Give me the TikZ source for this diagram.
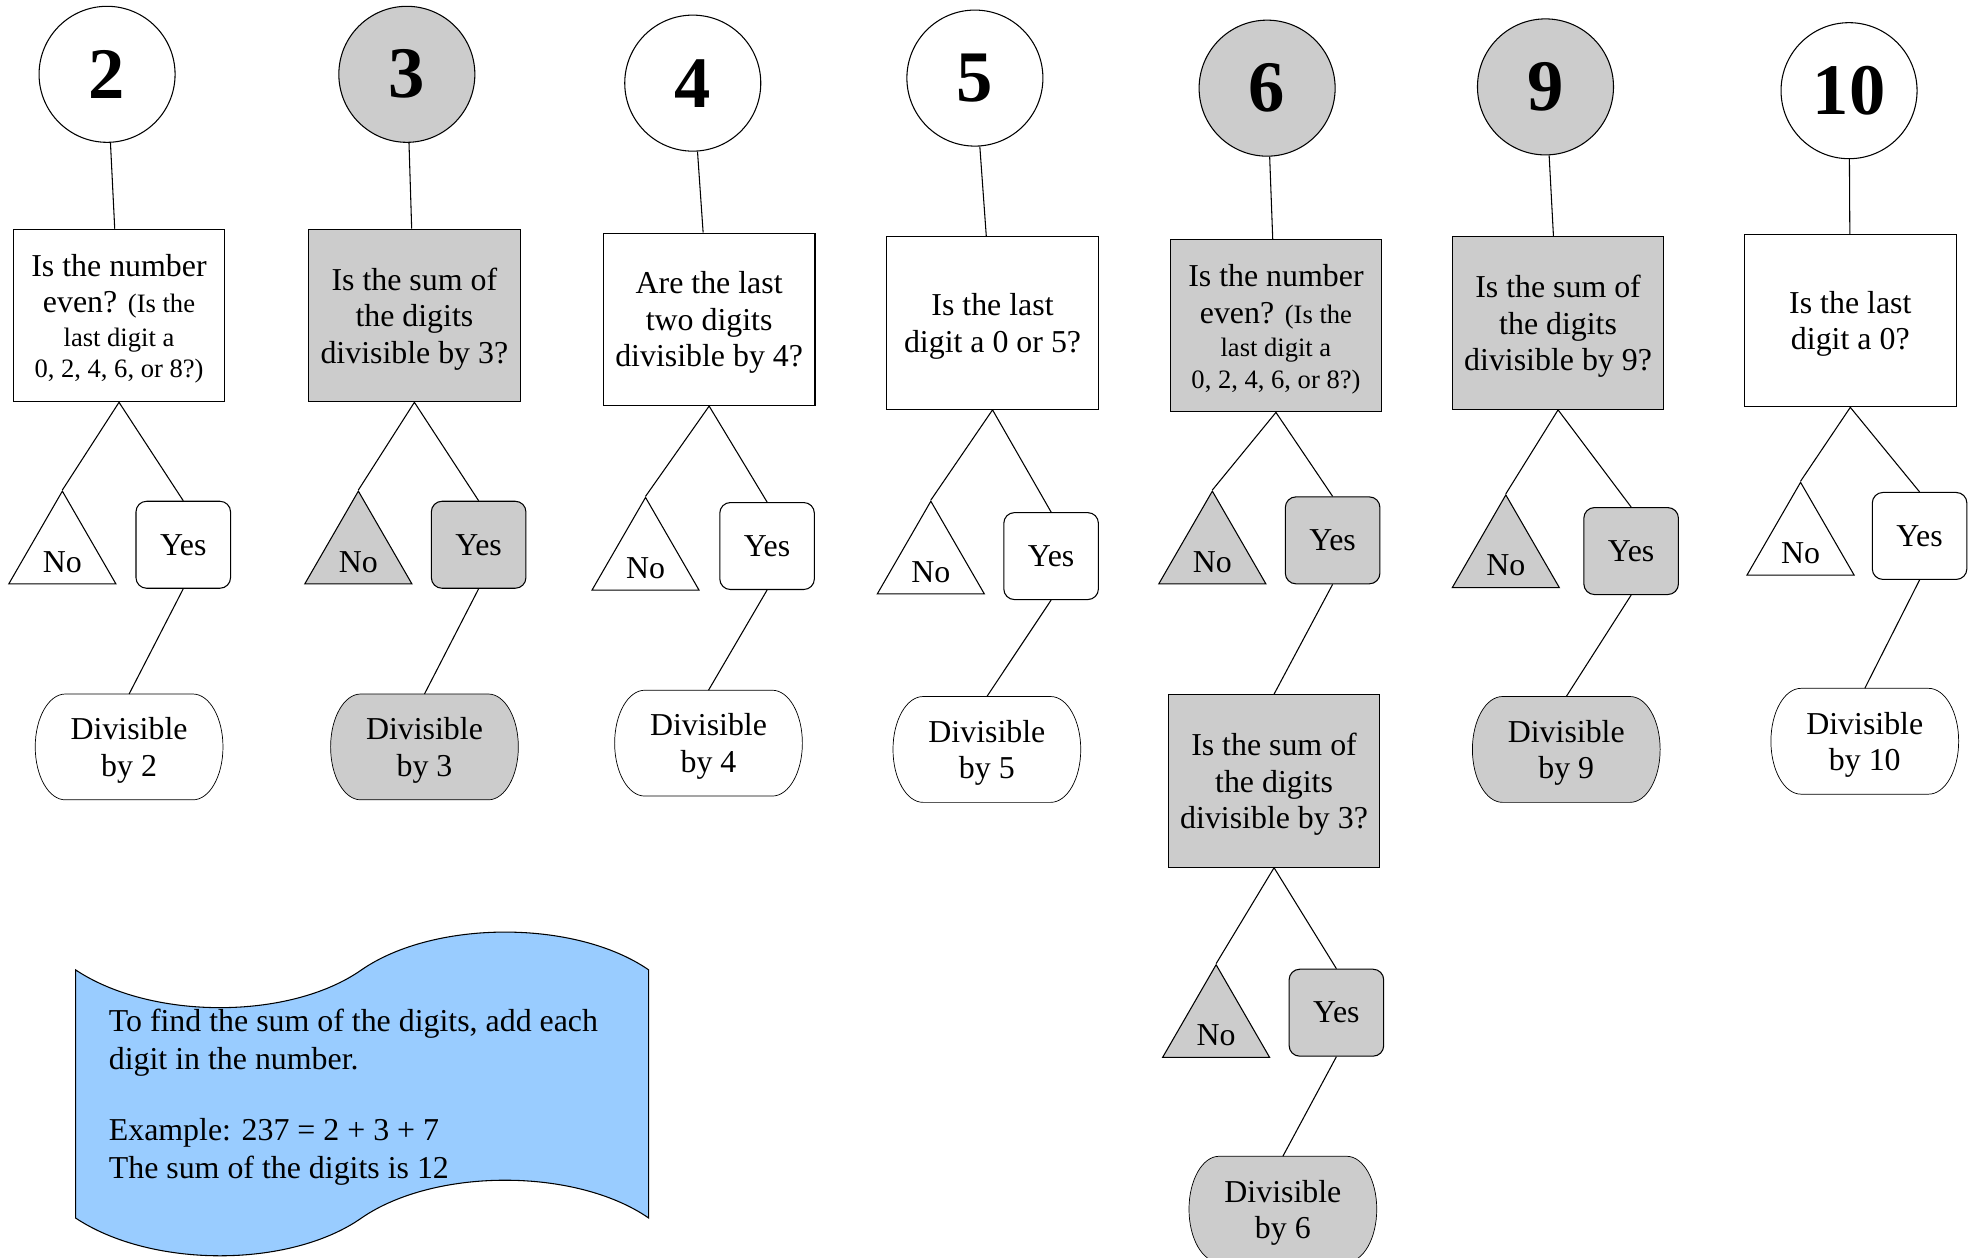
\documentclass[tikz,border=0pt]{standalone}
\usepackage{fontspec}
\setmainfont{Liberation Serif}
\usetikzlibrary{shapes.geometric, backgrounds}
\definecolor{boxgrey}{HTML}{CCCCCC}
\definecolor{notesky}{HTML}{99CCFF}
\newcommand{\smalltxt}{\fontsize{15}{17.5}\selectfont}
\newcommand{\capstrut}{\rule{0pt}{16.4pt}}

\begin{document}
\begin{tikzpicture}[x=0.025cm, y=0.025cm, line width=0.6pt,
    every node/.style={font=\fontsize{18}{20.6}\selectfont},
    num/.style={circle, draw, minimum size=76.8pt, inner sep=0pt, font=\fontsize{41}{41}\selectfont\bfseries},
    ask/.style={rectangle, draw, minimum width=119.5pt, minimum height=97.4pt, inner sep=2pt, align=center},
    nobox/.style={regular polygon, regular polygon sides=3, draw, minimum size=69.8pt, inner sep=0pt, text height=21.6pt, text depth=0pt},
    yesbox/.style={rectangle, draw, rounded corners=6pt, minimum width=53.4pt, minimum height=49.1pt},
    divbox/.style={rectangle, minimum width=106pt, minimum height=59.75pt, inner sep=0pt, outer sep=0pt, align=center},
    greyed/.style={fill=boxgrey}]
    \useasboundingbox (0,0) rectangle (1568,-998);

    \node[num] (c2) at (85,-59) {2};
    \node[ask] (q2) at (94.5,-250.5) {\capstrut Is the number\\ even? {\smalltxt (Is the}\\[-1.5pt] {\smalltxt last digit a}\\[-3pt] {\smalltxt 0, 2, 4, 6, or 8?)}};
    \node[nobox] (n2) at (49.5,-439) {No};
    \node[yesbox] (y2) at (145.5,-432.5) {Yes};
    \node[divbox] (d2) at (102.5,-593) {\capstrut Divisible\\ by 2};
    \draw (c2) -- (q2) (q2.south) -- (n2.north) (q2.south) -- (y2.north) (y2.south) -- (d2.north);

    \node[num, greyed] (c3) at (323,-59) {3};
    \node[ask, greyed] (q3) at (329,-250.5) {\capstrut Is the sum of\\ the digits\\ divisible by 3?};
    \node[nobox, greyed] (n3) at (284.5,-439) {No};
    \node[yesbox, greyed] (y3) at (380,-432.5) {Yes};
    \node[divbox] (d3) at (337,-593) {\capstrut Divisible\\ by 3};
    \draw (c3) -- (q3) (q3.south) -- (n3.north) (q3.south) -- (y3.north) (y3.south) -- (d3.north);

    \node[num] (c4) at (550,-66) {4};
    \node[ask] (q4) at (563,-253.5) {\capstrut Are the last\\ two digits\\ divisible by 4?};
    \node[nobox] (n4) at (512.5,-444) {No};
    \node[yesbox] (y4) at (609,-433.5) {Yes};
    \node[divbox] (d4) at (562.5,-590) {\capstrut Divisible\\ by 4};
    \draw (c4) -- (q4) (q4.south) -- (n4.north) (q4.south) -- (y4.north) (y4.south) -- (d4.north);

    \node[num] (c5) at (774,-62) {5};
    \node[ask] (q5) at (788,-256.5) {\capstrut Is the last\\ digit a 0 or 5?};
    \node[nobox] (n5) at (739,-447) {No};
    \node[yesbox] (y5) at (834.5,-441.5) {Yes};
    \node[divbox] (d5) at (783.5,-595) {\capstrut Divisible\\ by 5};
    \draw (c5) -- (q5) (q5.south) -- (n5.north) (q5.south) -- (y5.north) (y5.south) -- (d5.north);

    \node[num, greyed] (c6) at (1006,-70) {6};
    \node[ask, greyed] (q6) at (1013,-258.5) {\capstrut Is the number\\ even? {\smalltxt (Is the}\\[-1.5pt] {\smalltxt last digit a}\\[-3pt] {\smalltxt 0, 2, 4, 6, or 8?)}};
    \node[nobox, greyed] (n6) at (962.5,-439) {No};
    \node[yesbox, greyed] (y6) at (1058,-429) {Yes};
    \node[ask, greyed] (r6) at (1011.5,-620) {\capstrut Is the sum of\\ the digits\\ divisible by 3?};
    \node[nobox, greyed] (m6) at (965.5,-815) {No};
    \node[yesbox, greyed] (z6) at (1061,-804) {Yes};
    \node[divbox] (d6) at (1018.5,-960) {\capstrut Divisible\\ by 6};
    \draw (c6) -- (q6) (q6.south) -- (n6.north) (q6.south) -- (y6.north) (y6.south) -- (r6.north);
    \draw (r6.south) -- (m6.north) (r6.south) -- (z6.north) (z6.south) -- (d6.north);

    \node[num, greyed] (c9) at (1227,-69) {9};
    \node[ask, greyed] (q9) at (1237,-256.5) {\capstrut Is the sum of\\ the digits\\ divisible by 9?};
    \node[nobox, greyed] (n9) at (1195.5,-442) {No};
    \node[yesbox, greyed] (y9) at (1295,-437.5) {Yes};
    \node[divbox] (d9) at (1243.5,-595) {\capstrut Divisible\\ by 9};
    \draw (c9) -- (q9) (q9.south) -- (n9.north) (q9.south) -- (y9.north) (y9.south) -- (d9.north);

    \node[num] (c10) at (1468,-72) {10};
    \node[ask] (q10) at (1469,-254.5) {\capstrut Is the last\\ digit a 0?};
    \node[nobox] (n10) at (1429.5,-432) {No};
    \node[yesbox] (y10) at (1524,-425.5) {Yes};
    \node[divbox] (d10) at (1480.5,-588.5) {\capstrut Divisible\\ by 10};
    \draw (c10) -- (q10) (q10.south) -- (n10.north) (q10.south) -- (y10.north) (y10.south) -- (d10.north);

    \begin{scope}[on background layer]
        \foreach \dv/\fc in {d2/white, d3/boxgrey, d4/white, d5/white, d6/boxgrey, d9/boxgrey, d10/white}
            \draw[fill=\fc] ([xshift=17pt]\dv.north west) -- ([xshift=-17pt]\dv.north east)
                arc[start angle=90, end angle=-90, x radius=17pt, y radius=29.875pt]
                -- ([xshift=17pt]\dv.south west)
                arc[start angle=270, end angle=90, x radius=17pt, y radius=29.875pt] -- cycle;
    \end{scope}

    \draw[fill=notesky] (60,-770) .. controls (120,-810) and (230,-810) .. (287,-770)
        .. controls (345,-730) and (457,-730) .. (515,-770) -- (515,-967)
        .. controls (457,-927) and (345,-927) .. (287,-967)
        .. controls (230,-1007) and (120,-1007) .. (60,-967) -- cycle;
    \node[anchor=west, align=left, inner sep=0pt, font=\fontsize{18}{21.3}\selectfont] (note) at (86,-871)
        {To find the sum of the digits, add each\\ digit in the number.\\[19pt] Example: 237 = 2 + 3 + 7\\ The sum of the digits is 12};
\end{tikzpicture}
\end{document}
